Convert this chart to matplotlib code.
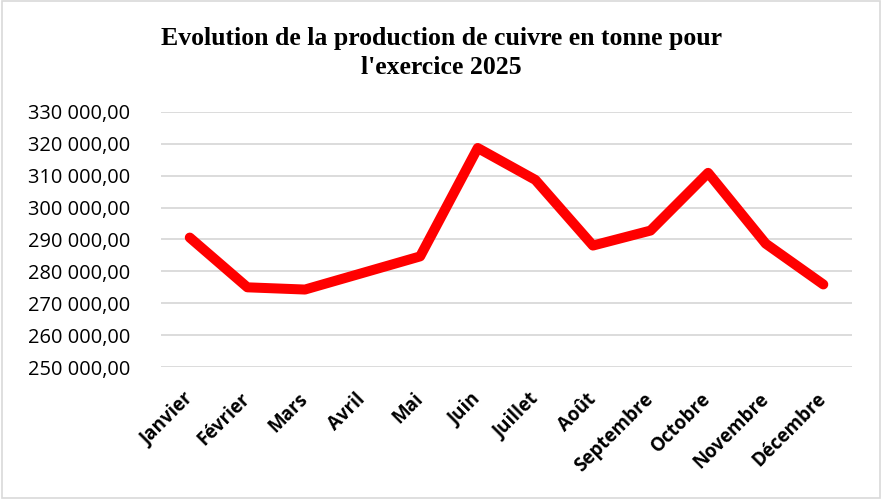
import matplotlib
matplotlib.use('Agg')
import matplotlib.pyplot as plt
import matplotlib.transforms as mtrans
from matplotlib.patches import Rectangle
from matplotlib.ticker import FuncFormatter

# production de cuivre (tonnes) par mois
mois = ['Janvier', 'Février', 'Mars', 'Avril', 'Mai', 'Juin', 'Juillet',
        'Août', 'Septembre', 'Octobre', 'Novembre', 'Décembre']
production = [290600, 275000, 274300, 279500, 284700, 318700, 308700,
              288100, 292800, 310900, 288700, 275900]
y_ticks = [250000, 260000, 270000, 280000, 290000, 300000, 310000, 320000, 330000]

def fmt(v, pos):
    # format francais : espace pour les milliers, virgule decimale
    return '{:,.2f}'.format(v).replace(',', ' ').replace('.', ',')

fig = plt.figure(figsize=(8.83, 4.99), dpi=100)
ax = fig.add_axes([0.1823, 0.2645, 0.965 - 0.1823, 0.7756 - 0.2645])

x = list(range(len(mois)))
ax.plot(x, production, color='#ff0000', lw=7.2,
        solid_capstyle='round', solid_joinstyle='round', zorder=3)

ax.set_ylim(250000, 330000)
ax.set_xlim(-0.5, len(mois) - 0.5)
ax.set_yticks(y_ticks)
ax.yaxis.set_major_formatter(FuncFormatter(fmt))
ax.set_xticks(x)
ax.set_xticklabels(mois, rotation=45, ha='right', va='center', rotation_mode='anchor',
                   fontfamily='Open Sans', fontweight='bold', fontsize=13.5)
shift = mtrans.ScaledTranslation(8 / 100, 0, fig.dpi_scale_trans)
for lab in ax.get_xticklabels():
    lab.set_transform(lab.get_transform() + shift)
for lab in ax.get_yticklabels():
    lab.set_fontfamily('Open Sans')
    lab.set_fontsize(14.4)

ax.grid(axis='y', color='#d9d9d9', lw=1.3)
ax.set_axisbelow(True)
for s in ax.spines.values():
    s.set_visible(False)
ax.tick_params(axis='both', length=0)
ax.tick_params(axis='y', pad=22)
ax.tick_params(axis='x', pad=21)

fig.text(0.5, 0.894, "Evolution de la production de cuivre en tonne pour\nl'exercice 2025",
         ha='center', va='center', fontfamily='Liberation Serif',
         fontweight='bold', fontsize=18.5, linespacing=1.3)

# cadre du graphique
fig.patches.append(Rectangle((0.002, 0.003), 0.995, 0.994, transform=fig.transFigure,
                             fill=False, edgecolor='#d9d9d9', lw=1.2))

plt.savefig('out.png', dpi=100)
